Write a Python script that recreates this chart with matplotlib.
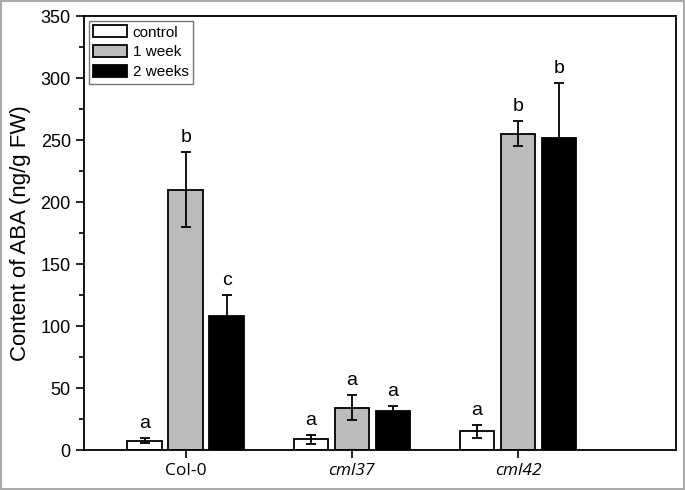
import matplotlib
matplotlib.use("Agg")
import matplotlib.pyplot as plt
import numpy as np
from matplotlib.patches import Rectangle
from matplotlib.ticker import MultipleLocator

groups = ["Col-0", "cml37", "cml42"]
series = ["control", "1 week", "2 weeks"]
values = {
    "control": [7.5, 8.5, 15.0],
    "1 week": [210.0, 34.0, 255.0],
    "2 weeks": [108.0, 31.5, 252.0],
}
errors = {
    "control": [2.0, 3.5, 5.0],
    "1 week": [30.0, 10.0, 10.0],
    "2 weeks": [17.0, 4.0, 44.0],
}
letters = {
    "control": ["a", "a", "a"],
    "1 week": ["b", "a", "b"],
    "2 weeks": ["c", "a", "b"],
}
colors = {"control": "white", "1 week": "#bbbbbb", "2 weeks": "black"}

fig = plt.figure(figsize=(6.85, 4.9), dpi=100)
fig.patches.append(Rectangle((0.002, 0.002), 0.996, 0.996, transform=fig.transFigure,
                             fill=False, edgecolor="#aaaaaa", linewidth=1.5))
ax = fig.add_axes([0.1226, 0.0816, 0.8643, 0.8857])

x = np.arange(len(groups))
width = 0.21
offset = 0.247
for i, s in enumerate(series):
    xs = x + (i - 1) * offset
    ax.bar(xs, values[s], width, color=colors[s], edgecolor="black", linewidth=1.3,
           label=s, zorder=2)
    ax.errorbar(xs, values[s], yerr=errors[s], fmt="none", ecolor="black",
                elinewidth=1.3, capsize=3.8, capthick=1.3, zorder=3)
    for xi, v, e, l in zip(xs, values[s], errors[s], letters[s]):
        ax.text(xi, v + e + 5, l, ha="center", va="bottom", fontsize=14,
                family="Liberation Sans")

ax.set_xlim(-0.614, 2.952)
ax.set_ylim(0, 350)
ax.yaxis.set_major_locator(MultipleLocator(50))
ax.yaxis.set_minor_locator(MultipleLocator(25))
ax.tick_params(axis="y", which="major", direction="out", length=6, width=1.2,
               labelsize=13)
ax.tick_params(axis="y", which="minor", direction="out", length=3.5, width=1.2)
ax.tick_params(axis="x", direction="out", length=6, width=1.2, labelsize=12.5)
for lab in ax.get_yticklabels():
    lab.set_family("Liberation Sans")
ax.set_xticks(x)
ax.set_xticklabels(groups, family="Open Sans")
for lab, st in zip(ax.get_xticklabels(), ["normal", "italic", "italic"]):
    lab.set_style(st)
for sp in ax.spines.values():
    sp.set_linewidth(1.3)
ax.set_ylabel("Content of ABA (ng/g FW)", fontsize=16, family="Liberation Sans",
              labelpad=7)

leg = ax.legend(loc="upper left", frameon=True, fancybox=False,
                edgecolor="#555555", handlelength=2.2, handleheight=0.85,
                borderaxespad=0.3, labelspacing=0.35, handletextpad=0.4,
                borderpad=0.3, prop={"family": "Liberation Sans", "size": 11})
leg.get_frame().set_linewidth(1.0)

fig.savefig("out.png", dpi=100)
